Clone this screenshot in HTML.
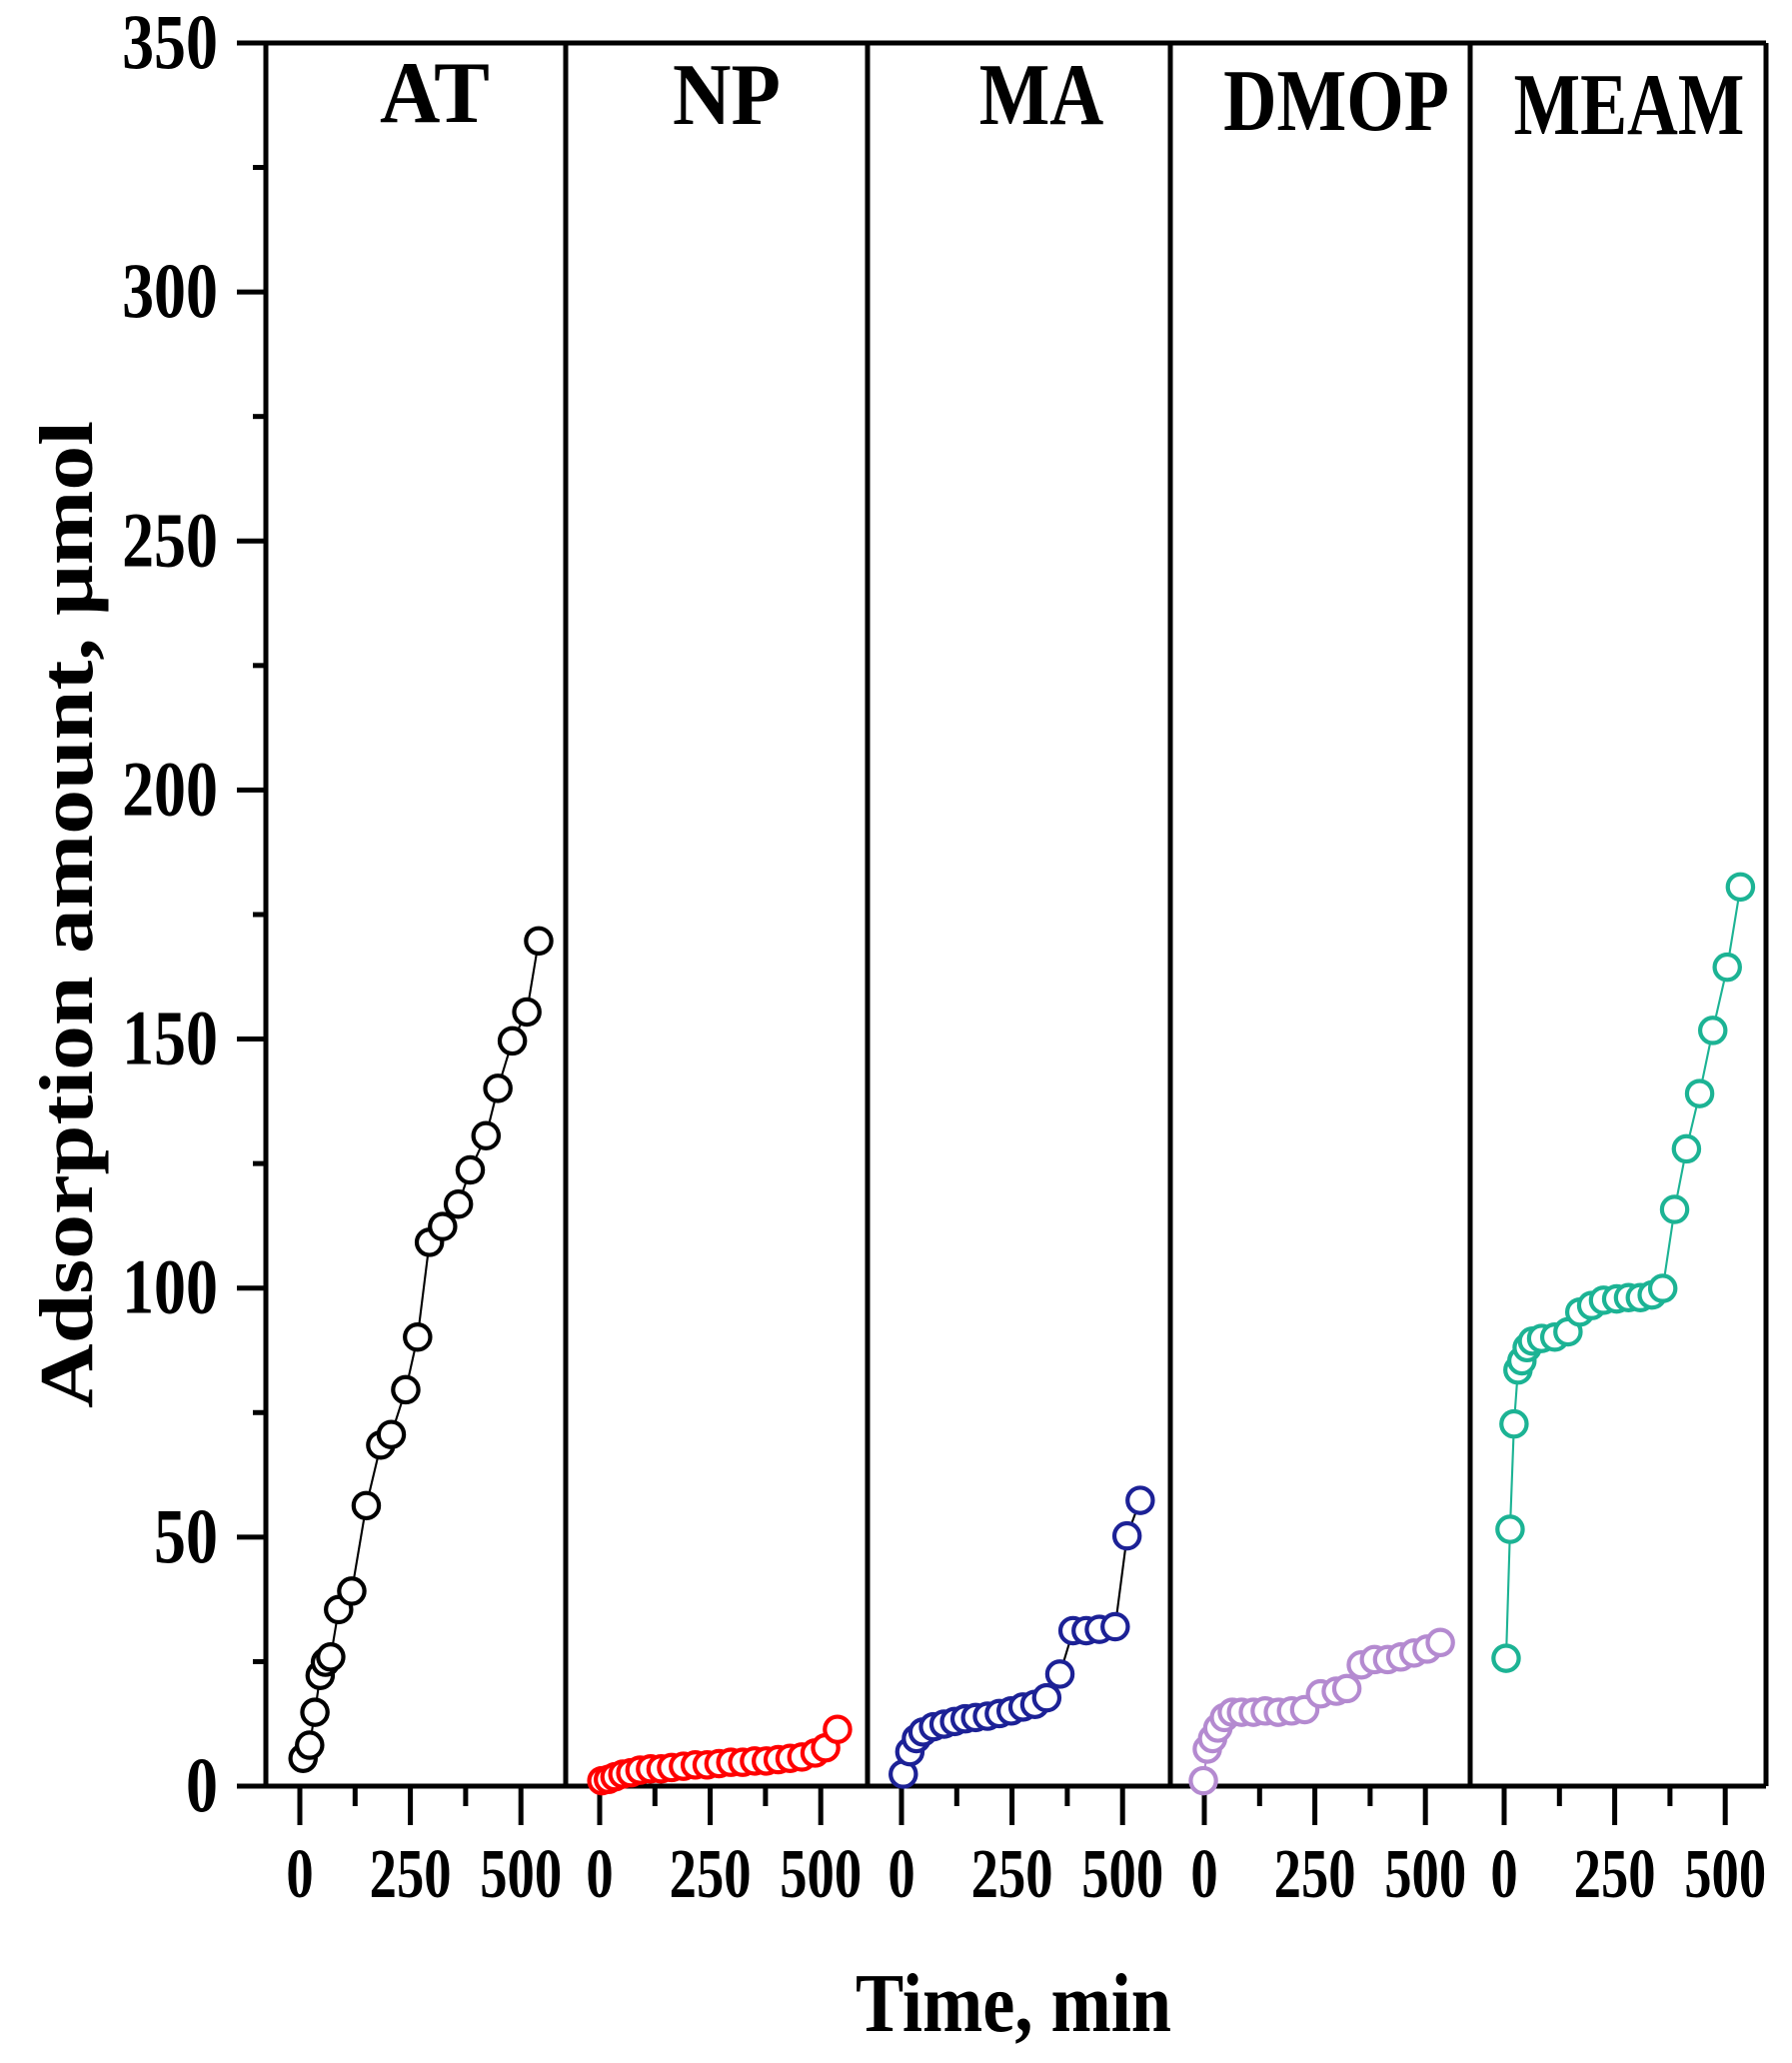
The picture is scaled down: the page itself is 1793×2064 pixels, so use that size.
<!DOCTYPE html>
<html><head><meta charset="utf-8"><style>
html,body{margin:0;padding:0;background:#fff;}
svg{display:block;}
text{font-family:"Liberation Serif",serif;font-weight:bold;fill:#000;}
</style></head><body>
<svg width="1793" height="2064" viewBox="0 0 1793 2064" xmlns="http://www.w3.org/2000/svg">
<g stroke="#000" stroke-width="5" fill="none">
<line x1="237" y1="43" x2="1767" y2="43"/>
<line x1="237" y1="1787" x2="1767" y2="1787"/>
<line x1="266" y1="43" x2="266" y2="1787"/>
<line x1="1767" y1="43" x2="1767" y2="1787"/>
<line x1="566" y1="43" x2="566" y2="1787"/>
<line x1="868" y1="43" x2="868" y2="1787"/>
<line x1="1171" y1="43" x2="1171" y2="1787"/>
<line x1="1471" y1="43" x2="1471" y2="1787"/>
</g>
<g stroke="#000" stroke-width="5" id="yt"></g>
<g stroke="#000" stroke-width="5" id="xt"></g>
<g id="ylab"></g>
<g id="xlab"></g>
<text x="435" y="122" font-size="88" text-anchor="middle" transform="translate(435,0) scale(0.95,1) translate(-435,0)">AT</text>
<text x="727" y="124" font-size="88" text-anchor="middle" transform="translate(727,0) scale(0.92,1) translate(-727,0)">NP</text>
<text x="1042" y="124" font-size="88" text-anchor="middle" transform="translate(1042,0) scale(0.85,1) translate(-1042,0)">MA</text>
<text x="1337" y="130" font-size="88" text-anchor="middle" transform="translate(1337,0) scale(0.84,1) translate(-1337,0)">DMOP</text>
<text x="1630" y="134" font-size="88" text-anchor="middle" transform="translate(1630,0) scale(0.8,1) translate(-1630,0)">MEAM</text>
<text transform="translate(92,915) rotate(-90)" font-size="76" text-anchor="middle" textLength="988" lengthAdjust="spacingAndGlyphs">Adsorption amount, μmol</text>
<text x="1014" y="2032" font-size="84" text-anchor="middle" textLength="316" lengthAdjust="spacingAndGlyphs">Time, min</text>
<g id="data" transform="translate(-1,1) scale(1.317)"></g>
</svg>
<script>
var NS="http://www.w3.org/2000/svg";
function el(p,t,a,txt){var e=document.createElementNS(NS,t);for(var k in a)e.setAttribute(k,a[k]);if(txt!==undefined)e.textContent=txt;document.getElementById(p).appendChild(e);return e;}
for(var v=0;v<=350;v+=25){var y=1787-v*4.983;var major=v%50==0;
el("yt","line",{x1:major?237:253,y1:y,x2:266,y2:y});
if(major){el("ylab","text",{"font-size":78,"text-anchor":"end",transform:"translate(218,"+(y+25)+") scale(0.82,1)"},String(v));}}
var z=[300,600,902,1205,1505];
z.forEach(function(x0){for(var i=0;i<5;i++){var x=x0+i*55.3;var major=i%2==0;
el("xt","line",{x1:x,y1:1787,x2:x,y2:major?1826:1807});
if(major){el("xlab","text",{"font-size":70,"text-anchor":"middle",transform:"translate("+x+",1898) scale(0.78,1)"},String(i*125));}}});
var S=[
{c:"#000",l:"#000",p:[[231,1335],[236,1325],[240,1300],[244,1272],[248,1262],[252,1258],[258,1222],[268,1208],[279,1143],[290,1097],[298,1089],[309,1055],[318,1015],[327,943],[337,931],[349,914],[358,888],[370,862],[379,826],[390,790],[401,768],[410,714]]},
{c:"#ff0000",l:"#ff0000",p:[[458,1352],[463,1351],[468,1349],[474,1347],[480,1346],[487,1344],[495,1343],[503,1343],[511,1342],[520,1341],[529,1340],[538,1340],[547,1339],[556,1338],[565,1338],[574,1337],[583,1337],[592,1336],[601,1335],[610,1334],[620,1331],[628,1327],[637,1313]]},
{c:"#1c2196",l:"#000",p:[[687,1347],[692,1330],[697,1320],[702,1315],[710,1311],[718,1309],[726,1307],[734,1305],[742,1304],[751,1303],[760,1301],[769,1299],[778,1296],[787,1294],[796,1289],[806,1271],[816,1238],[826,1238],[836,1237],[848,1235],[857,1166],[867,1139]]},
{c:"#b48ad0",l:"#b48ad0",p:[[915,1352],[918,1328],[922,1320],[926,1312],[931,1304],[937,1300],[944,1300],[953,1300],[962,1299],[972,1300],[982,1299],[992,1298],[1004,1286],[1016,1284],[1024,1282],[1035,1264],[1045,1260],[1055,1260],[1065,1258],[1075,1255],[1085,1252],[1095,1247]]},
{c:"#1cb394",l:"#1cb394",p:[[1145,1259],[1148,1161],[1151,1081],[1154,1040],[1157,1033],[1161,1023],[1165,1018],[1172,1016],[1182,1015],[1192,1011],[1201,996],[1210,991],[1219,987],[1229,986],[1238,985],[1247,985],[1256,983],[1264,978],[1273,918],[1282,872],[1292,830],[1302,782],[1313,734],[1323,673]]}];
S.forEach(function(s){
el("data","polyline",{points:s.p.map(function(q){return q.join(",")}).join(" "),fill:"none",stroke:s.l,"stroke-width":1.6});
s.p.forEach(function(q){el("data","circle",{cx:q[0],cy:q[1],r:9.6,fill:"#fff",stroke:s.c,"stroke-width":3.2});});});
</script>
</body></html>
